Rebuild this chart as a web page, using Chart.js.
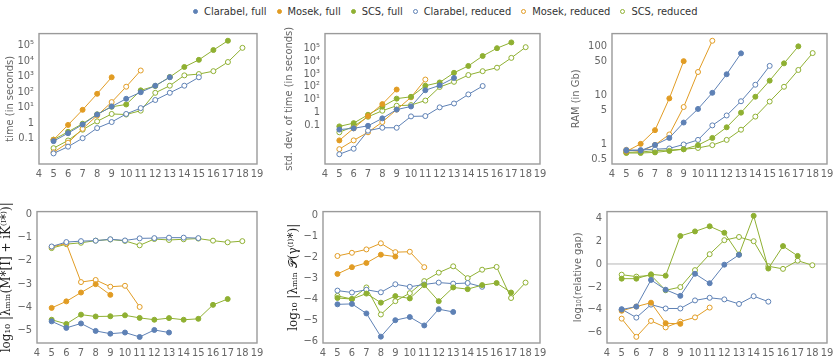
<!DOCTYPE html>
<html>
<head>
<meta charset="utf-8">
<script src="https://cdn.jsdelivr.net/npm/chart.js@4.4.0/dist/chart.umd.min.js"></script>
<style>
  body { margin: 0; background: #fff; width: 836px; height: 360px; position: relative; overflow: hidden; font-family: 'DejaVu Sans Condensed', 'Liberation Sans', sans-serif; }
  .panel { position: absolute; }
  #legend { position: absolute; left: 193px; top: 5px; display: flex; gap: 10px; font-size: 11px; color: #333; white-space: nowrap; }
  #legend span.item { display: flex; align-items: center; gap: 6px; }
  #legend i { display: inline-block; width: 5px; height: 5px; border-radius: 50%; box-sizing: border-box; }
</style>
</head>
<body>
<div id="legend"></div>
<script>
// problem sizes (x axis) and series
const sizes = [5, 6, 7, 8, 9, 10, 11, 12, 13, 14, 15, 16, 17, 18];
const xTicks = [4, 5, 6, 7, 8, 9, 10, 11, 12, 13, 14, 15, 16, 17, 18, 19];
const seriesNames = ['Clarabel, full', 'Mosek, full', 'SCS, full', 'Clarabel, reduced', 'Mosek, reduced', 'SCS, reduced'];
const seriesColors = ['#5e81b5', '#e19c24', '#8fb032', '#5e81b5', '#e19c24', '#8fb032'];
const seriesFilled = [true, true, true, false, false, false];

// time (in seconds)
const timeClarabelFull = [0.068, 0.22, 0.8, 3.5, 11.5, 36, 95, 250, 870];
const timeMosekFull = [0.083, 0.75, 7, 75, 870];
const timeScsFull = [0.085, 0.27, 0.9, 3.6, 11, 15.5, 125, 240, 900, 4000, 11500, 49000, 195000];
const timeClarabelRed = [0.011, 0.03, 0.105, 0.47, 1.15, 3.8, 9, 30, 87, 250, 870];
const timeMosekRed = [0.013, 0.054, 0.42, 3, 22, 215, 2370];
const timeScsRed = [0.024, 0.075, 0.37, 1.27, 3.8, 3.5, 6.2, 87, 250, 1150, 1400, 2150, 8300, 68000];
const timeTicks = [0.1, 1, 10, 100, 1000, 10000, 100000];

// std. dev. of time
const sdClarabelFull = [0.044, 0.055, 0.087, 0.33, 1.6, 2.8, 52, 125, 475];
const sdMosekFull = [0.0063, 0.055, 0.5, 4.3, 59];
const sdScsFull = [0.078, 0.14, 0.63, 2.7, 11.5, 16, 117, 210, 1200, 4100, 24600, 100000, 283000];
const sdClarabelRed = [0.00052, 0.0014, 0.036, 0.061, 0.061, 0.47, 0.5, 2.4, 4.8, 24.5, 111];
const sdMosekRed = [0.0013, 0.0063, 0.027, 0.17, 1.6, 14.5, 355];
const sdScsRed = [0.027, 0.078, 0.44, 1.3, 3.2, 3.6, 8.1, 93, 236, 800, 1600, 3000, 17500, 120000];
const sdTicks = [0.1, 1, 10, 100, 1000, 10000, 100000];

// RAM (in Gb)
const ramClarabelFull = [0.75, 0.75, 0.98, 1.36, 2.8, 5.3, 11.3, 27, 72];
const ramMosekFull = [0.72, 1.03, 1.96, 8.7, 50];
const ramScsFull = [0.67, 0.67, 0.69, 0.74, 0.8, 0.97, 1.36, 2.24, 4.45, 9.4, 20, 45, 100];
const ramClarabelRed = [0.77, 0.77, 0.8, 0.83, 1.0, 1.24, 2.45, 3.9, 7.6, 16.5, 40];
const ramMosekRed = [0.78, 0.72, 0.98, 1.6, 5.8, 30, 130];
const ramScsRed = [0.69, 0.7, 0.75, 0.77, 0.8, 0.85, 0.97, 1.24, 2.0, 3.7, 7.5, 15, 33, 73];
const ramTicks = [0.5, 1, 5, 10, 50, 100];

// log10 |lambda_min(M*[I] + iK)|
const mClarabelFull = [-4.62, -4.9, -4.71, -5.03, -5.15, -5.1, -5.29, -4.99, -5.1];
const mMosekFull = [-4.04, -3.76, -3.38, -3.02, -3.48];
const mScsFull = [-4.55, -4.73, -4.33, -4.41, -4.4, -4.36, -4.47, -4.55, -4.48, -4.55, -4.51, -3.91, -3.66];
const mClarabelRed = [-1.40, -1.21, -1.17, -1.15, -1.09, -1.14, -1.05, -1.04, -1.02, -1.02, -1.04];
const mMosekRed = [-1.42, -1.27, -2.93, -2.84, -3.13, -3.09, -4.0];
const mScsRed = [-1.47, -1.3, -1.24, -1.15, -1.1, -1.16, -1.35, -1.08, -1.12, -1.09, -1.06, -1.15, -1.22, -1.17];
const mTicks = [-5, -4, -3, -2, -1, 0];

// log10 |lambda_min P(gamma)|
const pClarabelFull = [-4.24, -4.22, -4.67, -5.77, -4.99, -4.84, -5.24, -4.47, -4.6];
const pMosekFull = [-2.8, -2.48, -2.28, -1.89, -1.98];
const pScsFull = [-3.94, -3.99, -3.73, -4.16, -3.85, -3.96, -3.33, -4.09, -3.44, -3.52, -3.33, -3.23, -3.68];
const pClarabelRed = [-3.59, -3.68, -3.55, -3.67, -3.29, -3.41, -3.3, -3.21, -3.26, -3.23, -3.41];
const pMosekRed = [-1.95, -1.8, -1.64, -1.35, -1.77, -1.75, -2.48];
const pScsRed = [-3.84, -3.99, -3.44, -4.72, -4.09, -3.71, -3.14, -2.74, -2.44, -3.0, -2.6, -2.47, -3.94, -3.21];
const pTicks = [-6, -5, -4, -3, -2, -1, 0];

// log10(relative gap)
const gClarabelFull = [-4.0, -3.74, -1.4, -2.26, -2.8, -0.86, -1.69, -0.06, 0.8];
const gMosekFull = [-4.11, -3.74, -3.4, -5.2, -5.26];
const gScsFull = [-1.29, -1.29, -0.91, -1.03, 2.46, 2.86, 3.31, 2.74, 0.83, 4.23, -0.4, 1.57, 0.71];
const gClarabelRed = [-3.97, -4.71, -3.57, -3.91, -3.91, -3.2, -2.97, -3.11, -3.51, -2.83, -3.31];
const gMosekRed = [-4.8, -6.4, -5.0, -5.57, -5.06, -4.69, -3.83];
const gScsRed = [-0.94, -1.11, -1.0, -2.31, -2.03, -0.54, 0.86, 2.09, 2.37, 2.0, -0.2, -0.43, 0.29, -0.11];
const gTicks = [-6, -4, -2, 0, 2, 4];

const supDigits = { '0': '⁰', '1': '¹', '2': '²', '3': '³', '4': '⁴', '5': '⁵', '6': '⁶', '7': '⁷', '8': '⁸', '9': '⁹' };
function powerLabel(v) {
  if (v < 1) return String(v);
  if (v === 1) return '1';
  const e = Math.round(Math.log10(v));
  return '10' + String(e).split('').map(c => supDigits[c]).join('');
}
const plainLabel = v => String(v);
const minusLabel = v => (v < 0 ? '\u2212' + Math.abs(v) : String(v));

const tickFont = { family: "'DejaVu Sans Condensed', 'Liberation Sans', sans-serif", size: 11 };
const sansTitle = { family: "'DejaVu Sans Condensed', 'Liberation Sans', sans-serif", size: 11 };
const serifTitle = { family: 'DejaVu Serif', size: 12 };

const panels = [
  { L: 39, R: 257, T: 30, B: 164, yW: 39, type: 'logarithmic', min: 0.0023, max: 560000, ticks: timeTicks, fmt: powerLabel,
    title: 'time (in seconds)', titleFont: sansTitle, titleColor: '#666',
    data: [timeClarabelFull, timeMosekFull, timeScsFull, timeClarabelRed, timeMosekRed, timeScsRed] },
  { L: 325, R: 540, T: 30, B: 164, yW: 46, type: 'logarithmic', min: 0.00009, max: 1380000, ticks: sdTicks, fmt: powerLabel,
    title: 'std. dev. of time (in seconds)', titleFont: sansTitle, titleColor: '#666',
    data: [sdClarabelFull, sdMosekFull, sdScsFull, sdClarabelRed, sdMosekRed, sdScsRed] },
  { L: 612, R: 827, T: 30, B: 164, yW: 46, type: 'logarithmic', min: 0.4, max: 182, ticks: ramTicks, fmt: plainLabel,
    title: 'RAM (in Gb)', titleFont: sansTitle, titleColor: '#666',
    data: [ramClarabelFull, ramMosekFull, ramScsFull, ramClarabelRed, ramMosekRed, ramScsRed] },
  { L: 37, R: 257, T: 208, B: 343, yW: 37, type: 'linear', min: -5.55, max: 0.1, ticks: mTicks, fmt: minusLabel,
    title: 'log₁₀ |λₘᵢₙ(M*[I] + iK⁽ᴵ*⁾)|', titleFont: serifTitle, titleColor: '#222', titlePad: 0,
    data: [mClarabelFull, mMosekFull, mScsFull, mClarabelRed, mMosekRed, mScsRed] },
  { L: 323, R: 540, T: 208, B: 343, yW: 36, type: 'linear', min: -6.07, max: 0.15, ticks: pTicks, fmt: minusLabel,
    title: 'log₁₀ |λₘᵢₙ 𝒫(γ⁽ᴵ⁾*)|', titleFont: serifTitle, titleColor: '#222', titlePad: 0,
    data: [pClarabelFull, pMosekFull, pScsFull, pClarabelRed, pMosekRed, pScsRed] },
  { L: 607, R: 827, T: 208, B: 343, yW: 39, type: 'linear', min: -6.94, max: 4.6, ticks: gTicks, fmt: minusLabel,
    title: 'log₁₀(relative gap)', titleFont: sansTitle, titleColor: '#666', zeroLine: true,
    data: [gClarabelFull, gMosekFull, gScsFull, gClarabelRed, gMosekRed, gScsRed] }
];

// frame around the plot area, plus optional zero line
const framePlugin = {
  id: 'frame',
  beforeDatasetsDraw(chart, args, opts) {
    const a = chart.chartArea, ctx = chart.ctx;
    if (opts.zeroLine) {
      const y = chart.scales.y.getPixelForValue(0);
      ctx.save();
      ctx.strokeStyle = '#b5b5b5';
      ctx.lineWidth = 1;
      ctx.beginPath();
      ctx.moveTo(a.left, y);
      ctx.lineTo(a.right, y);
      ctx.stroke();
      ctx.restore();
    }
  },
  afterDraw(chart) {
    const a = chart.chartArea, ctx = chart.ctx;
    ctx.save();
    ctx.strokeStyle = '#9a9a9a';
    ctx.lineWidth = 1.4;
    ctx.strokeRect(a.left, a.top, a.right - a.left, a.bottom - a.top);
    ctx.restore();
  }
};

const padTop = 8, padRight = 10, xH = 20;

panels.forEach(p => {
  const w = p.R - p.L + p.yW + padRight;
  const h = p.B - p.T + padTop + xH;
  const wrap = document.createElement('div');
  wrap.className = 'panel';
  wrap.style.left = (p.L - p.yW) + 'px';
  wrap.style.top = (p.T - padTop) + 'px';
  const cv = document.createElement('canvas');
  cv.width = w; cv.height = h;
  wrap.appendChild(cv);
  document.body.appendChild(wrap);

  new Chart(cv, {
    type: 'line',
    data: {
      datasets: p.data.map((vals, i) => ({
        label: seriesNames[i],
        data: vals.map((v, k) => ({ x: sizes[k], y: v })),
        borderColor: seriesColors[i],
        backgroundColor: seriesColors[i],
        pointBackgroundColor: seriesFilled[i] ? seriesColors[i] : '#ffffff',
        pointBorderColor: seriesColors[i],
        pointBorderWidth: 1,
        pointRadius: 2.5,
        borderWidth: 1,
        tension: 0,
        fill: false
      }))
    },
    options: {
      responsive: false,
      animation: false,
      layout: { padding: { top: padTop, right: padRight, left: 0, bottom: 0 } },
      plugins: { legend: { display: false }, tooltip: { enabled: false }, frame: { zeroLine: !!p.zeroLine } },
      scales: {
        x: {
          type: 'linear', min: 4, max: 19,
          afterBuildTicks: s => { s.ticks = xTicks.map(v => ({ value: v })); },
          afterFit: s => { s.height = xH; s.paddingLeft = 0; s.paddingRight = 0; },
          grid: { display: false, drawTicks: false }, border: { display: false },
          ticks: { autoSkip: false, maxRotation: 0, color: '#666', padding: 4, font: tickFont }
        },
        y: {
          type: p.type, min: p.min, max: p.max,
          afterBuildTicks: s => { s.ticks = p.ticks.map(v => ({ value: v })); },
          afterFit: s => { s.width = p.yW; },
          grid: { display: false, drawTicks: false }, border: { display: false },
          ticks: { callback: p.fmt, color: '#666', padding: 5, font: tickFont },
          title: { display: true, text: p.title, color: p.titleColor, font: p.titleFont,
                   padding: { top: p.titlePad === undefined ? 4 : p.titlePad, bottom: 0 } }
        }
      }
    },
    plugins: [framePlugin]
  });
});

// legend
const legend = document.getElementById('legend');
seriesNames.forEach((name, i) => {
  const item = document.createElement('span');
  item.className = 'item';
  const dot = document.createElement('i');
  dot.style.border = '1.3px solid ' + seriesColors[i];
  dot.style.background = seriesFilled[i] ? seriesColors[i] : '#fff';
  item.appendChild(dot);
  item.appendChild(document.createTextNode(name));
  legend.appendChild(item);
});
</script>
</body>
</html>
